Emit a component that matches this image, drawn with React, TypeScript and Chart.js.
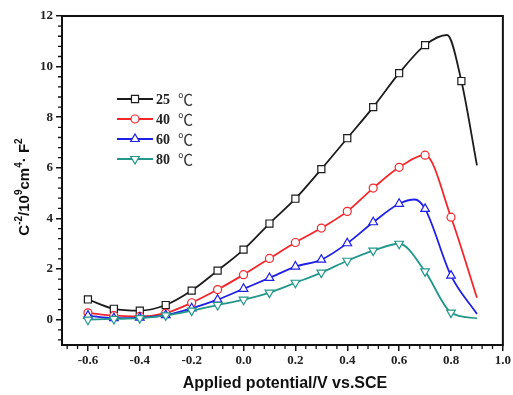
import React, { useEffect, useRef } from "react";
import { Chart, registerables } from "chart.js";

Chart.register(...registerables);

// ---- data ----
const seriesLabels = ["25 ℃", "40 ℃", "60 ℃", "80 ℃"];

const xTicks = [-0.6, -0.4, -0.2, 0, 0.2, 0.4, 0.6, 0.8, 1.0];
const yTicks = [0, 2, 4, 6, 8, 10, 12];

// marked points
const x25 = [-0.6, -0.5, -0.4, -0.3, -0.2, -0.1, 0, 0.1, 0.2, 0.3, 0.4, 0.5, 0.6, 0.7, 0.84];
const y25 = [0.8, 0.43, 0.36, 0.58, 1.15, 1.94, 2.77, 3.8, 4.78, 5.95, 7.17, 8.4, 9.74, 10.85, 9.43];
const xStd = [-0.6, -0.5, -0.4, -0.3, -0.2, -0.1, 0, 0.1, 0.2, 0.3, 0.4, 0.5, 0.6, 0.7, 0.8];
const y40 = [0.27, 0.16, 0.13, 0.26, 0.67, 1.19, 1.78, 2.42, 3.05, 3.62, 4.28, 5.2, 6.02, 6.5, 4.05];
const y60 = [0.16, 0.06, 0.08, 0.18, 0.45, 0.79, 1.22, 1.65, 2.1, 2.37, 3.02, 3.85, 4.58, 4.38, 1.74];
const y80 = [0.0, 0.03, 0.06, 0.17, 0.36, 0.58, 0.79, 1.07, 1.46, 1.86, 2.33, 2.73, 3.0, 1.91, 0.28];

// unmarked points of the curves (peaks / ends)
const x25Curve = [0.785, 0.9];
const y25Curve = [11.25, 6.1];
const x40Curve = [0.9];
const y40Curve = [0.87];
const x60Curve = [0.66, 0.9];
const y60Curve = [4.75, 0.23];
const x80Curve = [0.9];
const y80Curve = [0.05];

const colors = ["#1c1c1c", "#f2262b", "#1f1fe6", "#23978a"];
const markerStyles = ["rect", "circle", "triangle", "triangle"];
const markerRot = [0, 0, 0, 180];
const markerRadius = [5, 4, 5, 5];

type P = { x: number; y: number; m: boolean };
function build(mx: number[], my: number[], cx: number[], cy: number[]): P[] {
  const pts: P[] = [];
  mx.forEach((x, i) => pts.push({ x, y: my[i], m: true }));
  cx.forEach((x, i) => pts.push({ x, y: cy[i], m: false }));
  pts.sort((a, b) => a.x - b.x);
  return pts;
}

function drawMarker(ctx: CanvasRenderingContext2D, i: number, x: number, y: number) {
  const r = markerRadius[i];
  ctx.save();
  ctx.fillStyle = "#fff";
  ctx.strokeStyle = colors[i];
  ctx.lineWidth = 1.2;
  ctx.beginPath();
  if (markerStyles[i] === "rect") {
    const s = r * Math.SQRT1_2;
    ctx.rect(x - s, y - s, 2 * s, 2 * s);
  } else if (markerStyles[i] === "circle") {
    ctx.arc(x, y, r, 0, Math.PI * 2);
  } else {
    const dir = markerRot[i] === 180 ? -1 : 1;
    ctx.moveTo(x, y - dir * r);
    ctx.lineTo(x + r * 0.866, y + dir * r * 0.5);
    ctx.lineTo(x - r * 0.866, y + dir * r * 0.5);
    ctx.closePath();
  }
  ctx.fill();
  ctx.stroke();
  ctx.restore();
}

const decorPlugin = {
  id: "decor",
  afterDraw(chart: any) {
    const { ctx, chartArea: a, scales } = chart;
    const xs = scales.x;
    const ys = scales.y;
    ctx.save();
    // frame
    ctx.strokeStyle = "#111";
    ctx.lineWidth = 2;
    ctx.strokeRect(a.left, a.top, a.right - a.left, a.bottom - a.top);
    // minor ticks
    ctx.lineWidth = 1.3;
    ctx.beginPath();
    for (let k = -2; k <= 40; k++) {
      const v = -0.6 + k * 0.04;
      if (v < -0.7 - 1e-9 || v > 1.0 + 1e-9) continue;
      if (k % 5 === 0) continue;
      const px = xs.getPixelForValue(v);
      ctx.moveTo(px, a.bottom);
      ctx.lineTo(px, a.bottom + 4);
    }
    for (let k = -2; k <= 30; k++) {
      const v = k * 0.4;
      if (v < -1 - 1e-9 || v > 12 + 1e-9) continue;
      if (k % 5 === 0) continue;
      const py = ys.getPixelForValue(v);
      ctx.moveTo(a.left, py);
      ctx.lineTo(a.left - 4, py);
    }
    ctx.stroke();

    // legend
    const lx0 = 117, lx1 = 153, ly0 = 99, dy = 20;
    seriesLabels.forEach((lab, i) => {
      const y = ly0 + i * dy;
      ctx.strokeStyle = colors[i];
      ctx.lineWidth = 1.8;
      ctx.beginPath();
      ctx.moveTo(lx0, y);
      ctx.lineTo(lx1, y);
      ctx.stroke();
      drawMarker(ctx, i, (lx0 + lx1) / 2, y);
      const [num, unit] = lab.split(" ");
      ctx.fillStyle = "#222";
      ctx.textAlign = "left";
      ctx.textBaseline = "middle";
      ctx.font = "bold 14px 'Liberation Serif'";
      ctx.fillText(num, 156, y + 1);
      ctx.font = "15px 'Noto Sans CJK SC'";
      ctx.fillStyle = "#333";
      ctx.fillText(unit, 178, y);
    });

    // x title
    ctx.fillStyle = "#111";
    ctx.font = "bold 16px 'Liberation Sans'";
    ctx.textAlign = "center";
    ctx.textBaseline = "middle";
    ctx.fillText("Applied potential/V vs.SCE", 285, 384);

    // y title with superscripts
    const segs: [string, boolean][] = [
      ["C", false], ["-2", true], ["/10", false], ["9", true],
      ["cm", false], ["4", true], ["· F", false], ["2", true],
    ];
    const fMain = "bold 15px 'Liberation Sans'";
    const fSup = "bold 10px 'Liberation Sans'";
    let total = 0;
    const widths = segs.map(([t, s]) => {
      ctx.font = s ? fSup : fMain;
      const w = ctx.measureText(t).width;
      total += w;
      return w;
    });
    ctx.translate(23, 187);
    ctx.rotate(-Math.PI / 2);
    ctx.textAlign = "left";
    ctx.textBaseline = "alphabetic";
    let cx = -total / 2;
    segs.forEach(([t, s], i) => {
      ctx.font = s ? fSup : fMain;
      ctx.fillText(t, cx, s ? -1 : 5.5);
      cx += widths[i];
    });
    ctx.restore();
  },
};

export default function App() {
  const ref = useRef<HTMLCanvasElement | null>(null);

  useEffect(() => {
    if (!ref.current) return;
    const dataSets = [
      build(x25, y25, x25Curve, y25Curve),
      build(xStd, y40, x40Curve, y40Curve),
      build(xStd, y60, x60Curve, y60Curve),
      build(xStd, y80, x80Curve, y80Curve),
    ];
    const chart = new Chart(ref.current, {
      type: "line",
      data: {
        datasets: dataSets.map((d, i) => ({
          label: seriesLabels[i],
          data: d as any,
          parsing: false as any,
          borderColor: colors[i],
          borderWidth: 1.8,
          cubicInterpolationMode: "monotone" as const,
          fill: false,
          pointStyle: markerStyles[i] as any,
          pointRotation: markerRot[i],
          pointRadius: (c: any) => (c.raw && c.raw.m ? markerRadius[i] : 0),
          pointBackgroundColor: "#fff",
          pointBorderColor: colors[i],
          pointBorderWidth: 1.2,
          order: 4 - i,
        })),
      },
      options: {
        responsive: false,
        animation: false,
        events: [],
        layout: { padding: { top: 16, right: 4, left: 0, bottom: 0 } },
        plugins: { legend: { display: false }, tooltip: { enabled: false } },
        scales: {
          x: {
            type: "linear",
            min: -0.7,
            max: 1.0,
            afterBuildTicks: (s: any) => {
              s.ticks = xTicks.map((v) => ({ value: v }));
            },
            afterFit: (s: any) => {
              s.height = 50;
            },
            ticks: {
              callback: (v: any) => Number(v).toFixed(1),
              font: { family: "'Liberation Serif'", size: 13, weight: "bold" },
              color: "#222",
              padding: 2,
              maxRotation: 0,
              autoSkip: false,
            },
            grid: { drawOnChartArea: false, drawTicks: true, tickLength: 6, color: "#111", lineWidth: 1.5 },
            border: { display: true, color: "#111", width: 2 },
          },
          y: {
            type: "linear",
            min: -1,
            max: 12,
            afterBuildTicks: (s: any) => {
              s.ticks = yTicks.map((v) => ({ value: v }));
            },
            afterFit: (s: any) => {
              s.width = 62;
            },
            ticks: {
              callback: (v: any) => String(v),
              font: { family: "'Liberation Serif'", size: 13, weight: "bold" },
              color: "#222",
              padding: 3,
              autoSkip: false,
            },
            grid: { drawOnChartArea: false, drawTicks: true, tickLength: 6, color: "#111", lineWidth: 1.5 },
            border: { display: true, color: "#111", width: 2 },
          },
        },
      },
      plugins: [decorPlugin],
    });
    return () => chart.destroy();
  }, []);

  return (
    <div style={{ position: "absolute", left: 0, top: 0, width: 513, height: 395, background: "#fff" }}>
      <canvas ref={ref} width={513} height={395} />
    </div>
  );
}
